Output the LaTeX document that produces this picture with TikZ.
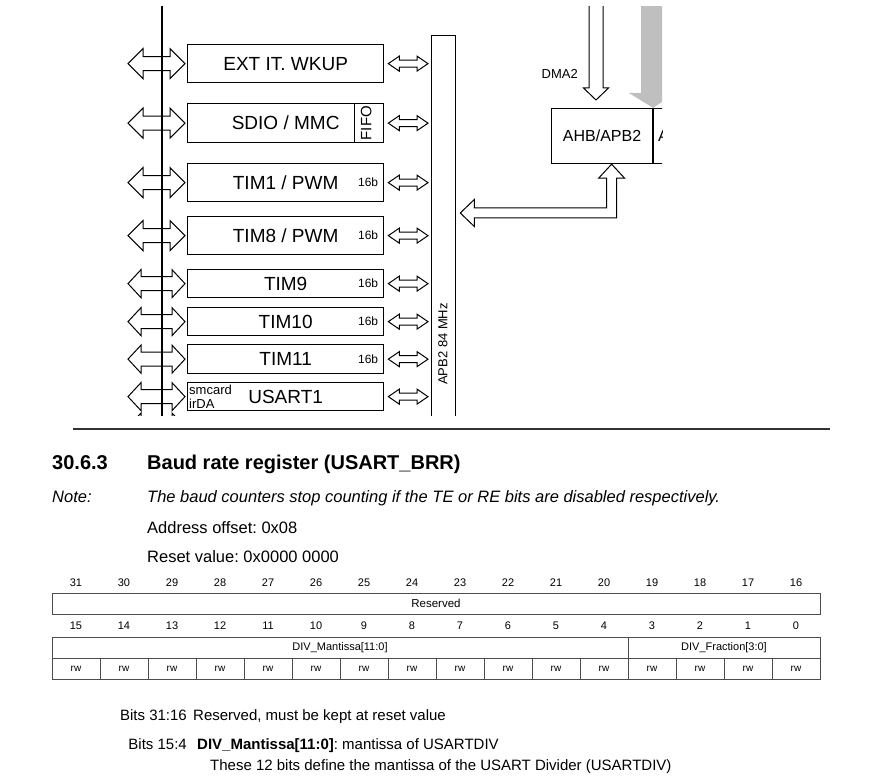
\documentclass[tikz,border=0pt]{standalone}
\usepackage{fontspec}
\setmainfont{Liberation Sans}
\usetikzlibrary{calc,positioning}
\frenchspacing
\newcommand{\sz}[1]{\fontsize{#1}{#1}\selectfont}
\newcommand{\bidir}[5]{%
	\draw[hollow] let \p1=(#1), \p2=(#2) in
		(\x1,\y1) -- (\x1+#3pt,\y1+#4pt) -- (\x1+#3pt,\y1+#5pt) -- (\x2-#3pt,\y1+#5pt)
		-- (\x2-#3pt,\y1+#4pt) -- (\x2,\y1) -- (\x2-#3pt,\y1-#4pt) -- (\x2-#3pt,\y1-#5pt)
		-- (\x1+#3pt,\y1-#5pt) -- (\x1+#3pt,\y1-#4pt) -- cycle;}
\tikzset{
	blk/.style={draw, line width=1.3pt, minimum width=196pt, anchor=north west, inner sep=0pt, font=\sz{19}},
	hollow/.style={draw, line width=1pt, line join=miter},
	tag/.style={inner sep=0pt, font=\sz{12}},
	cell/.style={draw=black!70, line width=0.9pt, inner sep=0pt, minimum height=21pt},
	bitno/.style={inner sep=0pt, anchor=base, font=\sz{11}},
	txt/.style={inner sep=0pt, anchor=base west, font=\sz{16.5}},
	desc/.style={inner sep=0pt, font=\sz{15}},
}
\begin{document}
\begin{tikzpicture}[x=1pt,y=-1pt]
	\useasboundingbox (0,0) rectangle (886,783);
	\begin{scope}
		\clip (0,7) rectangle (662,415);
		\coordinate (bustop) at (162,0);
		\coordinate (busend) at (162,430);
		\coordinate (nxt) at (187,427);
		\coordinate (dmatop) at (596,0);
		\coordinate (gtop) at (652,0);
		\coordinate (bend) at (611,213);
		\node[blk, minimum height=38pt] (ext) at (187,44) {EXT IT. WKUP};
		\node[blk, minimum height=39pt] (sdio) at (187,103) {SDIO / MMC\hspace{28pt}};
		\node[blk, minimum height=38pt] (tim1) at (187,163) {TIM1 / PWM\hspace{28pt}};
		\node[blk, minimum height=38pt] (tim8) at (187,216) {TIM8 / PWM\hspace{28pt}};
		\node[blk, minimum height=28pt] (tim9) at (187,269) {TIM9};
		\node[blk, minimum height=28pt] (tim10) at (187,307) {TIM10};
		\node[blk, minimum height=29pt] (tim11) at (187,344) {TIM11};
		\node[blk, minimum height=28pt] (usart) at (187,382) {USART1};
		\node[draw, line width=1.3pt, minimum width=24pt, minimum height=400pt, anchor=north west, inner sep=0pt] (apb) at (431,35) {};
		\node[rotate=90, inner sep=0pt, font=\sz{13}] (apbl) at (443,344) {APB2 84 MHz};
		\draw[line width=1.2pt] (bustop) -- (busend);
		\foreach \b in {ext,sdio,tim1,tim8} {
			\bidir{$(\b.west)+(-59,0)$}{$(\b.west)+(-2,0)$}{15}{15}{7}
		}
		\foreach \b in {tim9,tim10,tim11,usart} {
			\bidir{$(\b.west)+(-59,0)$}{$(\b.west)+(-2,0)$}{13}{14}{7}
		}
		\bidir{$(nxt)+(-59,0)$}{$(nxt)+(-2,0)$}{13}{14}{7}
		\foreach \b in {ext,sdio,tim1,tim8,tim9,tim10,tim11,usart} {
			\bidir{$(\b.east)+(4,0)$}{$(apb.west |- \b.east)+(-3,0)$}{11}{7.5}{3.5}
		}
		\foreach \b in {tim1,tim8,tim9,tim10,tim11} {
			\node[tag, anchor=east] (\b-w) at ($(\b.east)+(-6,0)$) {16b};
		}
		\draw[line width=1.3pt] ($(sdio.north east)+(-30,0)$) -- ($(sdio.south east)+(-30,0)$);
		\node[rotate=90, inner sep=0pt, font=\sz{15}] (fifo) at ($(sdio.east)+(-18,0)$) {FIFO};
		\node[anchor=west, align=left, inner sep=0pt, font=\fontsize{13}{14}\selectfont] (smc) at ($(usart.west)+(2,0)$) {smcard\\irDA};

		\node[draw, line width=1.2pt, minimum width=101pt, minimum height=55pt, anchor=north west, inner sep=0pt, font=\sz{16}] (ahb) at (551,108) {AHB/APB2\hspace{8pt}};
		\node[draw, line width=1.2pt, minimum width=101pt, minimum height=55pt, anchor=north west, inner sep=0pt] (apb1) at (ahb.north east) {};
		\node[anchor=west, inner sep=0pt, font=\sz{16}] (apb1t) at (658,135.5) {A};
		\fill[black!25] let \p1=(gtop), \p2=(ahb.north east) in
			(\x1-11pt,\y1) -- (\x1-11pt,\y2+15pt) -- (\x1-23pt,\y2+15pt) -- (\x2,\y2)
			-- (\x1+23pt,\y2+15pt) -- (\x1+11pt,\y2+15pt) -- (\x1+11pt,\y1) -- cycle;
		\draw[hollow] let \p1=(dmatop), \p2=($(dmatop |- ahb.north)+(0,-8)$) in
			(\x1-7pt,\y1) -- (\x1-7pt,\y2+12pt) -- (\x1-12.5pt,\y2+12pt) -- (\x2,\y2)
			-- (\x1+12.5pt,\y2+12pt) -- (\x1+7pt,\y2+12pt) -- (\x1+7pt,\y1);
		\node[anchor=east, inner sep=0pt, font=\sz{13}] (dmal) at (578,74) {DMA2};
		\draw[hollow] let \p1=($(ahb.south)+(9.5,0)$), \p2=($(apb.east |- bend)+(4,0)$) in
			(\x1,\y1) -- (\x1+13pt,\y1-14pt) -- (\x1+5pt,\y1-14pt) -- (\x1+5pt,\y2-5pt)
			-- (\x2+14pt,\y2-5pt) -- (\x2+14pt,\y2-13.5pt) -- (\x2,\y2) -- (\x2+14pt,\y2+13.5pt)
			-- (\x2+14pt,\y2+5pt) -- (\x1-5pt,\y2+5pt) -- (\x1-5pt,\y1-14pt) -- (\x1-13pt,\y1-14pt) -- cycle;
	\end{scope}

	\coordinate (rulel) at (73,429);
	\coordinate (ruler) at (830,429);
	\draw[line width=2pt, black!80] (rulel) -- (ruler);

	\node[txt, font=\bfseries\sz{20}] (secno) at (52,469) {30.6.3};
	\node[txt, font=\bfseries\sz{20}] (title) at (147,469) {Baud rate register (USART\_BRR)};
	\node[txt, font=\itshape\sz{16.5}] (note) at (52,502) {Note:};
	\node[txt, font=\itshape\sz{16.5}] (notetxt) at (147,502) {The baud counters stop counting if the TE or RE bits are disabled respectively.};
	\node[txt] (addr) at (147,533) {Address offset: 0x08};
	\node[txt] (reset) at (147,562) {Reset value: 0x0000 0000};

	\foreach \i in {0,...,15} {
		\pgfmathtruncatemacro{\bhi}{31-\i}
		\pgfmathtruncatemacro{\blo}{15-\i}
		\node[bitno] (hi\i) at (76+48*\i,586) {\bhi};
		\node[bitno] (lo\i) at (76+48*\i,629) {\blo};
		\node[cell, minimum width=48pt, font=\sz{10}] (rw\i) at (76+48*\i,668.5) {rw};
	}
	\node[cell, minimum width=768pt, font=\sz{11.5}] (resv) at (436,603.5) {Reserved};
	\node[cell, minimum width=576pt, font=\sz{11}] (mant) at (340,647.5) {DIV\_Mantissa[11:0]};
	\node[cell, minimum width=192pt, font=\sz{11}] (frac) at (724,647.5) {DIV\_Fraction[3:0]};

	\node[desc, anchor=base east] (bits1) at (187,720) {Bits 31:16};
	\node[desc, anchor=base west] (desc1) at (193,720) {Reserved, must be kept at reset value};
	\node[desc, anchor=base east] (bits2) at (187,749) {Bits 15:4};
	\node[desc, anchor=base west] (desc2) at (197,749) {\textbf{DIV\_Mantissa[11:0]}: mantissa of USARTDIV};
	\node[desc, anchor=base west] (desc3) at (210,770) {These 12 bits define the mantissa of the USART Divider (USARTDIV)};
\end{tikzpicture}
\end{document}
